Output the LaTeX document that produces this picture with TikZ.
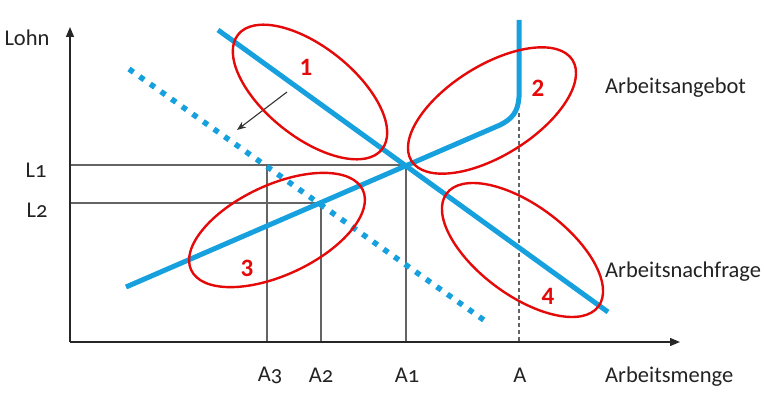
\documentclass[tikz,border=0pt]{standalone}
\usepackage{fontspec}
\setmainfont{Carlito}[Numbers=OldStyle]
\newfontfamily\numfont{Carlito}
\usetikzlibrary{arrows.meta}
\definecolor{curveblue}{RGB}{22,160,222}
\definecolor{ringred}{RGB}{228,10,10}
\definecolor{guidegray}{RGB}{100,100,100}
\definecolor{textgray}{RGB}{35,35,35}
\tikzset{
  axisline/.style={draw=black!85, line width=1.3pt, -{Triangle[length=10pt,width=8pt]}},
  guideline/.style={draw=guidegray, line width=1.3pt},
  guidedash/.style={draw=guidegray, line width=1.2pt, dash pattern=on 4pt off 3pt},
  curve/.style={draw=curveblue, line width=5pt},
  dottedcurve/.style={draw=curveblue, line width=5.5pt, dash pattern=on 5.5pt off 7.5pt},
  ring/.style={draw=ringred, line width=2.4pt},
  lbl/.style={text=textgray, font=\fontsize{22.5}{25}\selectfont, inner sep=0pt},
  rlbl/.style={text=textgray, font=\fontsize{22.5}{25}\selectfont, inner sep=0pt, anchor=west},
  num/.style={text=ringred, font=\numfont\bfseries\fontsize{25}{27}\selectfont, inner sep=0pt},
  shiftarrow/.style={draw=black!80, line width=1.1pt, -{Stealth[length=9pt,width=7pt]}}
}
\begin{document}
\begin{tikzpicture}[x=1pt,y=-1pt]
\useasboundingbox (0,0) rectangle (764,401);
% coordinates
\coordinate (O) at (70,342);
\coordinate (Ytip) at (70,27);
\coordinate (Xtip) at (680,342);
\coordinate (L1) at (70,165);
\coordinate (L2) at (70,203);
\coordinate (E1) at (406,165);
\coordinate (E2) at (321,203);
\coordinate (E3) at (267,165);
\coordinate (A1b) at (406,342);
\coordinate (A2b) at (321,342);
\coordinate (A3b) at (267,342);
\coordinate (Atop) at (519,113);
\coordinate (Ab) at (519,342);
\coordinate (Ds) at (218,30);
\coordinate (De) at (608,312);
\coordinate (Ss) at (126,287);
\coordinate (Sk) at (500,125);
\coordinate (Sv) at (519,97);
\coordinate (Se) at (519,20);
\coordinate (Ns) at (129,69);
\coordinate (Ne) at (488,323);
\coordinate (Ps) at (287,92);
\coordinate (Pe) at (237,130);
% guide lines
\draw[guideline] (L1) -- (E1) -- (A1b);
\draw[guideline] (L2) -- (E2) -- (A2b);
\draw[guideline] (E3) -- (A3b);
\draw[guidedash] (Atop) -- (Ab);
% axes
\draw[axisline] (O) -- (Ytip);
\draw[axisline] (O) -- (Xtip);
% curves
\draw[dottedcurve] (Ns) -- (Ne);
\draw[curve] (Ds) -- (De);
\draw[curve] (Ss) -- (Sk) .. controls (512,119) and (518,112) .. (Sv) -- (Se);
\draw[shiftarrow] (Ps) -- (Pe);
% rings
\draw[ring, shift={(310,92)}, rotate=-38.6] (0,0) ellipse [x radius=92pt, y radius=45pt];
\draw[ring, shift={(492,110.5)}, rotate=32] (0,0) ellipse [x radius=95pt, y radius=45pt];
\draw[ring, shift={(277,230)}, rotate=25] (0,0) ellipse [x radius=94.7pt, y radius=45pt];
\draw[ring, shift={(522.5,250)}, rotate=-36.6] (0,0) ellipse [x radius=94.6pt, y radius=45pt];
% numbers
\node[num] (n1) at (306,67) {1};
\node[num] (n2) at (538,88) {2};
\node[num] (n3) at (247,268) {3};
\node[num] (n4) at (548,296) {4};
% labels
\node[lbl] (lohn) at (27,38) {Lohn};
\node[lbl] (l1) at (36,170) {L1};
\node[lbl] (l2) at (37,210) {L2};
\node[lbl] (a3) at (270,375) {A3};
\node[lbl] (a2) at (321,375) {A2};
\node[lbl] (a1) at (407,375) {A1};
\node[lbl] (a) at (520,375) {A};
\node[rlbl] (ang) at (605,88) {Arbeitsangebot};
\node[rlbl] (nach) at (605,272) {Arbeitsnachfrage};
\node[rlbl] (menge) at (605,377) {Arbeitsmenge};
\end{tikzpicture}
\end{document}
